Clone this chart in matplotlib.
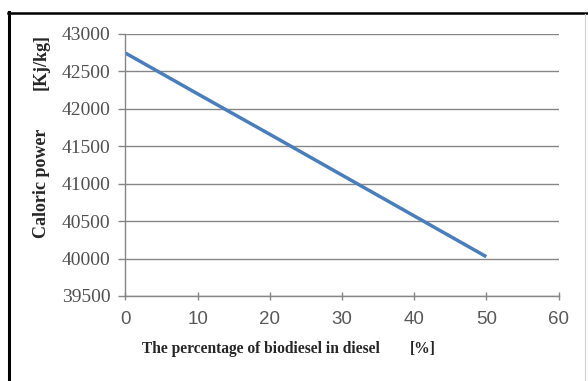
import numpy as np
import matplotlib
matplotlib.use("Agg")
import matplotlib.pyplot as plt
from matplotlib.lines import Line2D

# data
biodiesel_pct = [0, 10, 20, 30, 40, 50]
caloric_power = [42745, 42200, 41660, 41115, 40570, 40025]
xticks = [0, 10, 20, 30, 40, 50, 60]
yticks = [39500, 40000, 40500, 41000, 41500, 42000, 42500, 43000]

W, H = 588, 381
fig = plt.figure(figsize=(W / 100, H / 100), dpi=100)
fig.patch.set_facecolor("white")

def fx(px):
    return px / W

def fy(py):
    return 1 - py / H

ax = fig.add_axes([fx(125.5), fy(296), fx(558.5) - fx(125.5), fy(34) - fy(296)])
ax.plot(biodiesel_pct, caloric_power, color="#4A7EBB", linewidth=2.5, solid_capstyle="butt")

ax.set_xlim(0, 60)
ax.set_ylim(39500, 43000)
ax.set_xticks(xticks)
ax.set_yticks(yticks)
ax.yaxis.grid(True, color="#868686", linewidth=1.0)
ax.set_axisbelow(True)

for s in ["top", "right"]:
    ax.spines[s].set_visible(False)
for s in ["left", "bottom"]:
    ax.spines[s].set_color("#868686")
    ax.spines[s].set_linewidth(1.0)

ax.tick_params(axis="y", direction="out", length=5, width=1, color="#868686",
               pad=6, labelsize=14, labelcolor="#505050")
ax.tick_params(axis="x", direction="inout", length=6, width=1, color="#868686",
               pad=8, labelsize=13.5, labelcolor="#595959")
for lab in ax.get_yticklabels():
    lab.set_fontfamily("Liberation Serif")
for lab in ax.get_xticklabels():
    lab.set_fontfamily("Liberation Sans")

# axis titles
fig.text(fx(261), fy(349), "The percentage of biodiesel in diesel", ha="center", va="center",
         fontsize=11.2, fontweight="bold", family="Liberation Serif", color="#262626")
fig.text(fx(423), fy(349), "[%]", ha="center", va="center",
         fontsize=11.2, fontweight="bold", family="Liberation Serif", color="#262626")
fig.text(fx(41), fy(183), "Caloric power", ha="center", va="center", rotation=90,
         fontsize=13, fontweight="bold", family="Liberation Serif", color="#262626")
fig.text(fx(41), fy(62), "[Kj/kg]", ha="center", va="center", rotation=90,
         fontsize=13, fontweight="bold", family="Liberation Serif", color="#262626")

# outer frame of the chart object
fig.add_artist(Line2D([fx(8.5), fx(8.5)], [fy(12), 0], color="black", linewidth=2.2,
                      transform=fig.transFigure))
fig.add_artist(Line2D([fx(7.5), 1], [fy(13), fy(13)], color="black", linewidth=1.8,
                      transform=fig.transFigure))
fig.add_artist(Line2D([fx(585), fx(585)], [fy(14), 0], color="#d0d0d0", linewidth=0.8,
                      transform=fig.transFigure))

fig.savefig("out.png", dpi=100)
